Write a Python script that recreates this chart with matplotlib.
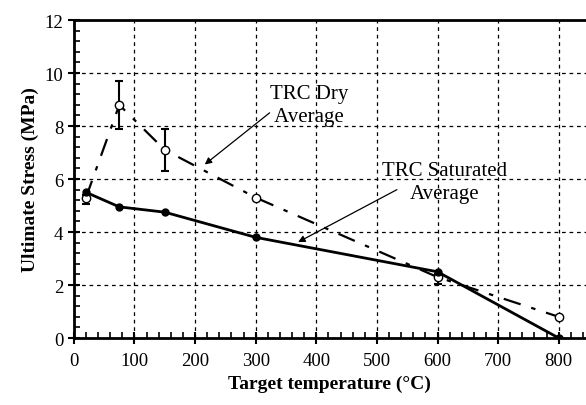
import matplotlib
matplotlib.use("Agg")
import matplotlib.pyplot as plt
from matplotlib.ticker import MultipleLocator

plt.rcParams['font.family'] = ['Liberation Serif', 'DejaVu Serif']

# temperatures (deg C)
temps = [20, 75, 150, 300, 600, 800]

# TRC saturated average
sat_stress = [5.5, 4.95, 4.75, 3.8, 2.5, 0.0]

# TRC dry average + error bars
dry_stress = [5.3, 8.8, 7.1, 5.3, 2.3, 0.8]
dry_err_lo = [0.25, 0.9, 0.8, 0.0, 0.25, 0.0]
dry_err_hi = [0.1, 0.9, 0.8, 0.0, 0.1, 0.0]

fig = plt.figure(figsize=(5.86, 4.06), dpi=100)
ax = fig.add_axes([0.126, 0.165, 0.874, 0.783])

ax.errorbar(temps, dry_stress, yerr=[dry_err_lo, dry_err_hi], fmt='none',
            ecolor='black', elinewidth=1.5, capsize=3, capthick=1.5, zorder=3)
ax.plot(temps, dry_stress, color='black', linewidth=1.6,
        linestyle=(0, (8, 5, 2, 5)), marker='o', markersize=6,
        markerfacecolor='white', markeredgecolor='black', zorder=4)
ax.plot(temps, sat_stress, color='black', linewidth=2, marker='o',
        markersize=5, markerfacecolor='black', zorder=5)

ax.set_xlim(0, 845)
ax.set_ylim(0, 12)
ax.xaxis.set_major_locator(MultipleLocator(100))
ax.xaxis.set_minor_locator(MultipleLocator(20))
ax.yaxis.set_major_locator(MultipleLocator(2))
ax.yaxis.set_minor_locator(MultipleLocator(0.4))
ax.tick_params(which='major', direction='inout', length=8, width=1.5, labelsize=13.5)
ax.tick_params(which='minor', direction='in', length=4, width=1.2)
ax.tick_params(axis='x', pad=6)

for side in ['left', 'bottom', 'top']:
    ax.spines[side].set_linewidth(2)
ax.spines['right'].set_visible(False)

ax.grid(True, which='major', color='black', linestyle=(0, (3, 3)), linewidth=0.9)

ax.set_xlabel('Target temperature (°C)', fontsize=14, fontweight='bold')
ax.set_ylabel('Ultimate Stress (MPa)', fontsize=14, fontweight='bold')

# labels and arrows
ax.text(323, 8.8, 'TRC Dry\n Average', fontsize=15, ha='left', va='center',
        linespacing=1.3)
ax.text(612, 5.9, 'TRC Saturated\nAverage', fontsize=15, ha='center', va='center',
        linespacing=1.3)
arrow = dict(arrowstyle='-|>', color='black', lw=0.9, shrinkA=0, shrinkB=0,
             mutation_scale=10)
ax.annotate('', xy=(216, 6.55), xytext=(323, 8.5), arrowprops=arrow)
ax.annotate('', xy=(370, 3.62), xytext=(533, 5.6), arrowprops=arrow)

fig.savefig('out.png', dpi=100)
